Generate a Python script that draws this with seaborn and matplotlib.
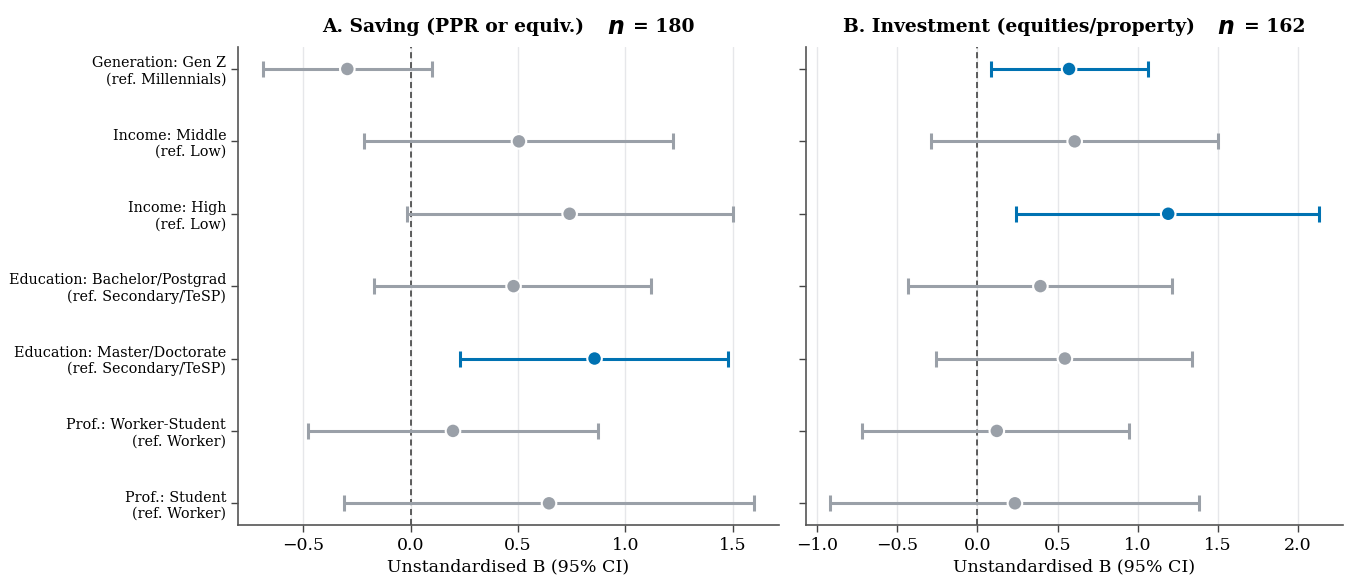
import numpy as np
import pandas as pd
import matplotlib
matplotlib.use("Agg")
import matplotlib.pyplot as plt
import seaborn as sns

labels = [
    "Generation: Gen Z\n(ref. Millennials)",
    "Income: Middle\n(ref. Low)",
    "Income: High\n(ref. Low)",
    "Education: Bachelor/Postgrad\n(ref. Secondary/TeSP)",
    "Education: Master/Doctorate\n(ref. Secondary/TeSP)",
    "Prof.: Worker-Student\n(ref. Worker)",
    "Prof.: Student\n(ref. Worker)",
]

saving_b = [-0.295, 0.504, 0.740, 0.479, 0.856, 0.197, 0.644]
saving_lo = [-0.689, -0.219, -0.018, -0.169, 0.230, -0.479, -0.309]
saving_hi = [0.100, 1.220, 1.499, 1.120, 1.479, 0.871, 1.599]
saving_sig = [False, False, False, False, True, False, False]

invest_b = [0.572, 0.607, 1.191, 0.393, 0.546, 0.121, 0.234]
invest_lo = [0.082, -0.289, 0.239, -0.433, -0.261, -0.718, -0.918]
invest_hi = [1.063, 1.504, 2.132, 1.213, 1.341, 0.948, 1.383]
invest_sig = [True, False, True, False, False, False, False]

title_main = ["A. Saving (PPR or equiv.)", "B. Investment (equities/property)"]
title_n = ["180", "162"]
xlabel = "Unstandardised B (95% CI)"

sns.set_theme(style="white")
plt.rcParams["font.family"] = ["DejaVu Serif"]
plt.rcParams["mathtext.fontset"] = "dejavusans"
plt.rcParams["text.color"] = "black"
plt.rcParams["axes.labelcolor"] = "black"
plt.rcParams["xtick.color"] = "black"
plt.rcParams["ytick.color"] = "black"

GREY = "#9aa0a8"
BLUE = "#0072B2"

W, H = 1346, 577
fig = plt.figure(figsize=(W / 100, H / 100), dpi=100)
ax1 = fig.add_axes([0.1768, 0.0901, 0.402, 0.828])
ax2 = fig.add_axes([0.5985, 0.0901, 0.399, 0.828])

panels = [
    (ax1, saving_b, saving_lo, saving_hi, saving_sig, (-0.804, 1.715), [-0.5, 0, 0.5, 1.0, 1.5]),
    (ax2, invest_b, invest_lo, invest_hi, invest_sig, (-1.073, 2.28), [-1.0, -0.5, 0, 0.5, 1.0, 1.5, 2.0]),
]

renderer = fig.canvas.get_renderer()

for i, (ax, b, lo, hi, sig, xlim, xt) in enumerate(panels):
    df = pd.DataFrame({"label": labels, "b": b, "lo": lo, "hi": hi, "sig": sig,
                       "pos": np.arange(len(labels))})
    for xv in xt:
        ax.axvline(xv, color="#e6e7ea", lw=1.0, zorder=0)
    ax.axvline(0, color="#333333", lw=1.1, ls=(0, (4, 2.5)), zorder=1)
    for _, r in df.iterrows():
        c = BLUE if r["sig"] else GREY
        ax.errorbar(r["b"], r["pos"], xerr=[[r["b"] - r["lo"]], [r["hi"] - r["b"]]],
                    fmt="none", ecolor=c, elinewidth=2.2, capsize=6, capthick=2.2, zorder=2)
    sns.scatterplot(data=df, x="b", y="pos", hue="sig", palette={False: GREY, True: BLUE},
                    s=110, edgecolor="white", linewidth=1.5, legend=False, zorder=3, ax=ax)
    ax.set_ylim(6.3, -0.3)
    ax.set_xlim(*xlim)
    ax.set_xticks(xt)
    ax.set_xticklabels([f"{v:.1f}".replace("-", "\u2212") for v in xt], fontsize=12.5)
    ax.set_yticks(np.arange(len(labels)))
    if i == 0:
        ax.set_yticklabels(labels, fontsize=10.4)
    else:
        ax.set_yticklabels([])
    ax.set_xlabel(xlabel, fontsize=12.5, labelpad=3)
    ax.set_ylabel("")

    ax.tick_params(axis="both", length=5, width=1, color="#444444", left=True, bottom=True)
    for s in ["top", "right"]:
        ax.spines[s].set_visible(False)
    for s in ["left", "bottom"]:
        ax.spines[s].set_color("#555555")
        ax.spines[s].set_linewidth(1.2)

    # Title composed of three pieces: bold serif text, bold-italic n, "= N"
    t1 = fig.text(0, 0, title_main[i], fontsize=13.5, fontweight="bold", va="baseline", ha="left")
    t2 = fig.text(0, 0, r"$\mathbfit{n}$", fontsize=17, va="baseline", ha="left")
    t3 = fig.text(0, 0, "= " + title_n[i], fontsize=13.5, fontweight="bold", va="baseline", ha="left")
    w1 = t1.get_window_extent(renderer).width
    w2 = t2.get_window_extent(renderer).width
    w3 = t3.get_window_extent(renderer).width
    gap1, gap2 = 22, 9
    total = w1 + gap1 + w2 + gap2 + w3
    bb = ax.get_position()
    cx = (bb.x0 + bb.x1) / 2 * W
    x0 = cx - total / 2
    yb = H - 32
    t1.set_position((x0 / W, yb / H))
    t2.set_position(((x0 + w1 + gap1) / W, (yb - 2.5) / H))
    t3.set_position(((x0 + w1 + gap1 + w2 + gap2) / W, yb / H))

fig.savefig("out.png", dpi=100)
